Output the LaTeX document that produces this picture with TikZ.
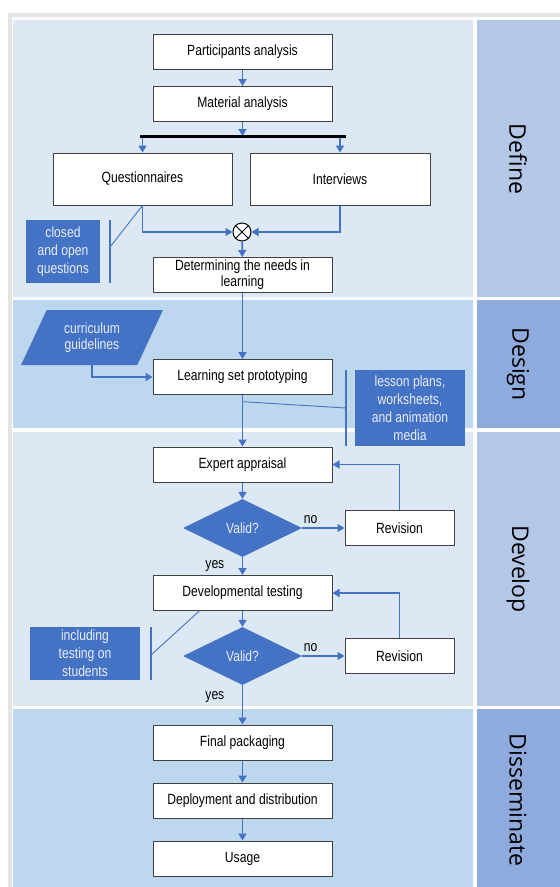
\documentclass[tikz,border=0pt]{standalone}
\usepackage{fontspec}
\setmainfont{Liberation Sans}[FakeStretch=0.82]
\newfontfamily\lanefont{Open Sans}
\usepackage{tikz}
\usetikzlibrary{arrows.meta}
\usetikzlibrary{shapes.geometric}
\usetikzlibrary{calc}

\definecolor{accent}{HTML}{4472C4}
\definecolor{notetext}{HTML}{E8EEF8}
\definecolor{lanelight}{HTML}{DDE8F5}
\definecolor{lanemid}{HTML}{BDD7EE}
\definecolor{tablight}{HTML}{B4C7E7}
\definecolor{tabdark}{HTML}{8FAADC}
\definecolor{framegray}{HTML}{E4E4E4}
\definecolor{boxline}{HTML}{404040}

\begin{document}
\begin{tikzpicture}[x=1pt, y=-1pt, >={Triangle[length=7pt,width=8pt]},
  font=\fontsize{14.8}{16}\selectfont,
  box/.style={draw=boxline, line width=1pt, fill=white, minimum width=179pt, minimum height=35pt, inner sep=1pt, align=center},
  note/.style={fill=accent, text=notetext, align=center, inner sep=0pt, font=\fontsize{14.8}{18}\selectfont},
  test/.style={diamond, fill=accent, text=notetext, minimum width=119pt, minimum height=58pt, inner sep=0pt},
  flow/.style={->, accent, line width=1.7pt},
  brace/.style={accent, line width=1.2pt},
  lane/.style={font=\lanefont\fontsize{23}{23}\selectfont, rotate=-90},
]
\useasboundingbox (0,0) rectangle (560,887);
% lanes
\fill[white] (0,0) rectangle (560,887);
\fill[framegray] (8,13) rectangle (560,887);
\fill[white] (12,17) rectangle (560,887);
\fill[lanelight] (13,20) rectangle (473,297);
\fill[tablight] (477,20) rectangle (560,297);
\fill[lanemid] (13,300) rectangle (473,428);
\fill[tabdark] (477,300) rectangle (560,428);
\fill[lanelight] (13,432) rectangle (473,706);
\fill[tablight] (477,432) rectangle (560,706);
\fill[lanemid] (13,709) rectangle (473,887);
\fill[tabdark] (477,709) rectangle (560,887);
\node[lane] (L1) at (518,159) {Define};
\node[lane] (L2) at (518,364) {Design};
\node[lane] (L3) at (518,569) {Develop};
\node[lane] (L4) at (518,800) {Disseminate};

% boxes
\node[box] (1) at (242.5,51.5) {Participants analysis};
\node[box] (2) at (242.5,104) {Material analysis};
\coordinate (bl) at (140,136);
\coordinate (br) at (346,136);
\node[box, minimum height=52pt] (3) at (142.5,179) {Questionnaires};
\node[box, minimum width=180pt, minimum height=52pt] (4) at (340,179) {Interviews};
\node[circle, draw=black, fill=white, line width=1pt, minimum size=18pt, inner sep=0pt] (5) at (242,232) {};
\node[box] (6) at (242.5,275) {Determining the needs in\\learning};
\node[note, minimum width=74pt, minimum height=63pt] (7) at (63,251.5) {closed\\and open\\questions};
\node[trapezium, trapezium left angle=62, trapezium right angle=118, trapezium stretches=true,
  fill=accent, text=notetext, align=center, inner sep=0pt, minimum width=142pt, minimum height=55pt] (8) at (92,337.5) {curriculum\\guidelines};
\node[box] (9) at (242.5,377) {Learning set prototyping};
\node[note, minimum width=110pt, minimum height=76pt] (10) at (410,408) {lesson plans,\\worksheets,\\and animation\\media};
\node[box] (11) at (242.5,464.5) {Expert appraisal};
\node[test] (12) at (242.5,528) {Valid?};
\node[box, minimum width=109pt] (13) at (399.5,528) {Revision};
\node[box] (14) at (242.5,593) {Developmental testing};
\node[test] (15) at (242.5,656) {Valid?};
\node[box, minimum width=109pt] (16) at (399.5,656) {Revision};
\node[note, minimum width=110pt, minimum height=53pt] (17) at (85,653.5) {including\\testing on\\students};
\node[box] (18) at (242.5,742.5) {Final packaging};
\node[box] (19) at (242.5,800.5) {Deployment and distribution};
\node[box] (20) at (242.5,858.5) {Usage};

% connectors
\draw[flow] (1)--(2);
\draw[flow] (2.south)--(2.south |- bl);
\draw[flow] (3.north |- bl)--(3.north);
\draw[flow] (4.north |- bl)--(4.north);
\draw[black, line width=3pt] (bl)--(br);
\draw[flow] (3.south) |- (5.west);
\draw[flow] (4.south) |- (5.east);
\draw[line width=1pt] (5.north east)--(5.south west) (5.north west)--(5.south east);
\draw[flow] (5)--(6);
\draw[flow] (6)--(9);
\draw[flow] (8.center |- 8.south) |- (9.west);
\draw[flow] (9)--(11);
\draw[flow] (11)--(12);
\draw[flow] (12)--(13) node[pos=0.2, above, text=black]{no};
\draw[flow] (13.north) |- (11.east);
\draw[flow] (12)--(14) node[midway, left=14pt, text=black]{yes};
\draw[flow] (14)--(15);
\draw[flow] (15)--(16) node[pos=0.2, above, text=black]{no};
\draw[flow] (16.north) |- (14.east);
\draw[flow] (15)--(18) node[pos=0.3, left=14pt, text=black]{yes};
\draw[flow] (18)--(19);
\draw[flow] (19)--(20);

% brackets
\coordinate (a1) at (110,220);
\coordinate (a2) at (110,283);
\coordinate (a3) at (110,247);
\draw[brace] (a1)--(a2);
\draw[accent, line width=0.9pt] (a3)--(3.south);
\coordinate (c1) at (346,370);
\coordinate (c2) at (346,446);
\coordinate (c3) at (346,408);
\coordinate (c4) at ($(9.south)!0.13!(11.north)$);
\draw[brace] (c1)--(c2);
\draw[accent, line width=0.9pt] (c3)--(c4);
\coordinate (e1) at (151,627);
\coordinate (e2) at (151,680);
\coordinate (e3) at (151,655);
\coordinate (e4) at ($(14.south west)!0.26!(14.south east)$);
\draw[brace] (e1)--(e2);
\draw[accent, line width=0.9pt] (e3)--(e4);
\end{tikzpicture}
\end{document}
